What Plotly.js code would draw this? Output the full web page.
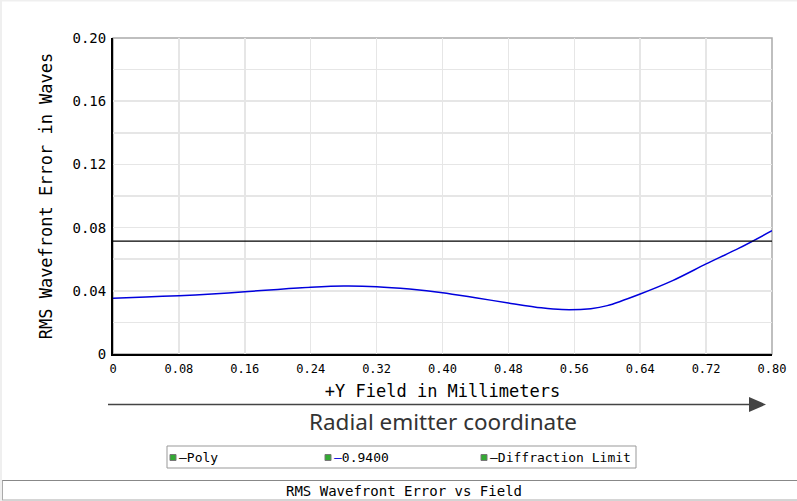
<!DOCTYPE html>
<html>
<head>
<meta charset="utf-8">
<script src="https://cdn.plot.ly/plotly-3.0.1.min.js"></script>
<style>html,body{margin:0;padding:0;background:#fff;}#chart{width:797px;height:501px;}</style>
</head>
<body>
<div id="chart"></div>
<script>
// ---- data ----
const fieldY = [0, 0.04, 0.08, 0.12, 0.16, 0.20, 0.24, 0.28, 0.32, 0.36, 0.40, 0.44, 0.48, 0.52, 0.545, 0.58, 0.60, 0.64, 0.68, 0.72, 0.76, 0.80];
const rmsWave = [0.0353, 0.0361, 0.0369, 0.0380, 0.0394, 0.0409, 0.0422, 0.0430, 0.0426, 0.0411, 0.0388, 0.0356, 0.0323, 0.0292, 0.0281, 0.0287, 0.0306, 0.0380, 0.0466, 0.0570, 0.0670, 0.0780];
const diffX = [0, 0.80];
const diffY = [0.0715, 0.0715];
const xTickVals = [0, 0.08, 0.16, 0.24, 0.32, 0.40, 0.48, 0.56, 0.64, 0.72, 0.80];
const xTickText = ["0", "0.08", "0.16", "0.24", "0.32", "0.40", "0.48", "0.56", "0.64", "0.72", "0.80"];
const yTickVals = [0, 0.04, 0.08, 0.12, 0.16, 0.20];
const yTickText = ["0", "0.04", "0.08", "0.12", "0.16", "0.20"];
const legendNames = ["Poly", "0.9400", "Diffraction Limit"];
const legendDashColors = ["#000", "#0000dd", "#000"];
const chartTitle = "RMS Wavefront Error vs Field";
const xTitle = "+Y Field in Millimeters";
const yTitle = "RMS Wavefront Error in Waves";
const arrowLabel = "Radial emitter coordinate";

// ---- layout helpers (pixel -> paper) ----
const L = 113, R = 772, T = 38, B = 354;
const W = R - L, H = B - T;
const X = px => (px - L) / W;
const Y = py => (B - py) / H;
const mono = "DejaVu Sans Mono, monospace";

const traces = [
  {x: fieldY, y: rmsWave, type: 'scatter', mode: 'lines', line: {color: '#0000dd', width: 1.5, shape: 'spline', smoothing: 0.8}, hoverinfo: 'skip', showlegend: false},
  {x: diffX, y: diffY, type: 'scatter', mode: 'lines', line: {color: '#000', width: 1.2}, hoverinfo: 'skip', showlegend: false}
];

const shapes = [
  {type: 'rect', xref: 'paper', yref: 'paper', x0: 0, x1: 1, y0: 0, y1: 1, line: {color: '#aaaaaa', width: 1.5}, layer: 'below'},
  {type: 'rect', xref: 'paper', yref: 'paper', x0: X(-1), x1: X(797), y0: Y(1.5), y1: Y(-5), fillcolor: '#efefef', line: {width: 0}, layer: 'below'},
  {type: 'rect', xref: 'paper', yref: 'paper', x0: X(-1), x1: X(2), y0: Y(502), y1: Y(0), fillcolor: '#efefef', line: {width: 0}, layer: 'below'},
  {type: 'line', xref: 'paper', yref: 'paper', x0: X(108), x1: X(752), y0: Y(404.5), y1: Y(404.5), line: {color: '#444', width: 1.5}},
  {type: 'path', xref: 'paper', yref: 'paper', path: `M ${X(749)} ${Y(397)} L ${X(766)} ${Y(404.5)} L ${X(749)} ${Y(412)} Z`, fillcolor: '#444', line: {color: '#444', width: 0}},
  {type: 'rect', xref: 'paper', yref: 'paper', x0: X(167), x1: X(636), y0: Y(468), y1: Y(446), line: {color: '#999', width: 1}},
  {type: 'line', xref: 'paper', yref: 'paper', x0: X(2), x1: X(797), y0: Y(480.5), y1: Y(480.5), line: {color: '#888', width: 1}},
  {type: 'line', xref: 'paper', yref: 'paper', x0: X(2), x1: X(797), y0: Y(500), y1: Y(500), line: {color: '#aaa', width: 1}},
  {type: 'line', xref: 'paper', yref: 'paper', x0: X(2.5), x1: X(2.5), y0: Y(480.5), y1: Y(500), line: {color: '#aaa', width: 1}}
];

const annotations = [
  {xref: 'paper', yref: 'paper', x: X(443), y: Y(421), text: arrowLabel, showarrow: false, font: {family: 'Noto Sans, DejaVu Sans, sans-serif', size: 22.5, color: '#333'}, xanchor: 'center', yanchor: 'middle'},
  {xref: 'paper', yref: 'paper', x: X(404), y: Y(490.5), text: chartTitle, showarrow: false, font: {family: mono, size: 14, color: '#000'}, xanchor: 'center', yanchor: 'middle'}
];

const legendX = [170, 325, 481];
legendNames.forEach((name, i) => {
  const x0 = legendX[i];
  shapes.push({type: 'rect', xref: 'paper', yref: 'paper', x0: X(x0), x1: X(x0 + 6), y0: Y(460.5), y1: Y(454.5), fillcolor: '#33aa33', line: {color: '#777', width: 1}});
  annotations.push({xref: 'paper', yref: 'paper', x: X(x0 + 7), y: Y(457.5), xanchor: 'left', yanchor: 'middle', showarrow: false,
    text: `<span style="color:${legendDashColors[i]}">—</span>${name}`,
    font: {family: mono, size: 13, color: '#000'}});
});

const layout = {
  width: 797, height: 501,
  margin: {l: L, r: 797 - R, t: T, b: 501 - B, pad: 0},
  paper_bgcolor: '#fff', plot_bgcolor: '#fff',
  showlegend: false,
  xaxis: {
    range: [0, 0.8], tickvals: xTickVals, ticktext: xTickText, ticks: '', showgrid: true, gridcolor: '#e6e6e6', gridwidth: 1.5,
    zeroline: false, showline: true, linecolor: '#000', linewidth: 2, ticklabelstandoff: 3,
    tickfont: {family: mono, size: 12, color: '#000'},
    title: {text: xTitle, font: {family: mono, size: 17, color: '#000'}, standoff: 10}
  },
  yaxis: {
    range: [0, 0.2], tickvals: yTickVals, ticktext: yTickText, ticks: '', showgrid: true, gridcolor: '#e6e6e6', gridwidth: 1.5,
    minor: {dtick: 0.02, tick0: 0, showgrid: true, gridcolor: '#e6e6e6', gridwidth: 1.5, ticks: ''},
    zeroline: false, showline: true, linecolor: '#000', linewidth: 2, ticklabelstandoff: 2,
    tickfont: {family: mono, size: 14, color: '#000'},
    title: {text: yTitle, font: {family: mono, size: 17, color: '#000'}, standoff: 16}
  },
  shapes: shapes,
  annotations: annotations
};

Plotly.newPlot('chart', traces, layout, {staticPlot: true, displayModeBar: false});
</script>
</body>
</html>
